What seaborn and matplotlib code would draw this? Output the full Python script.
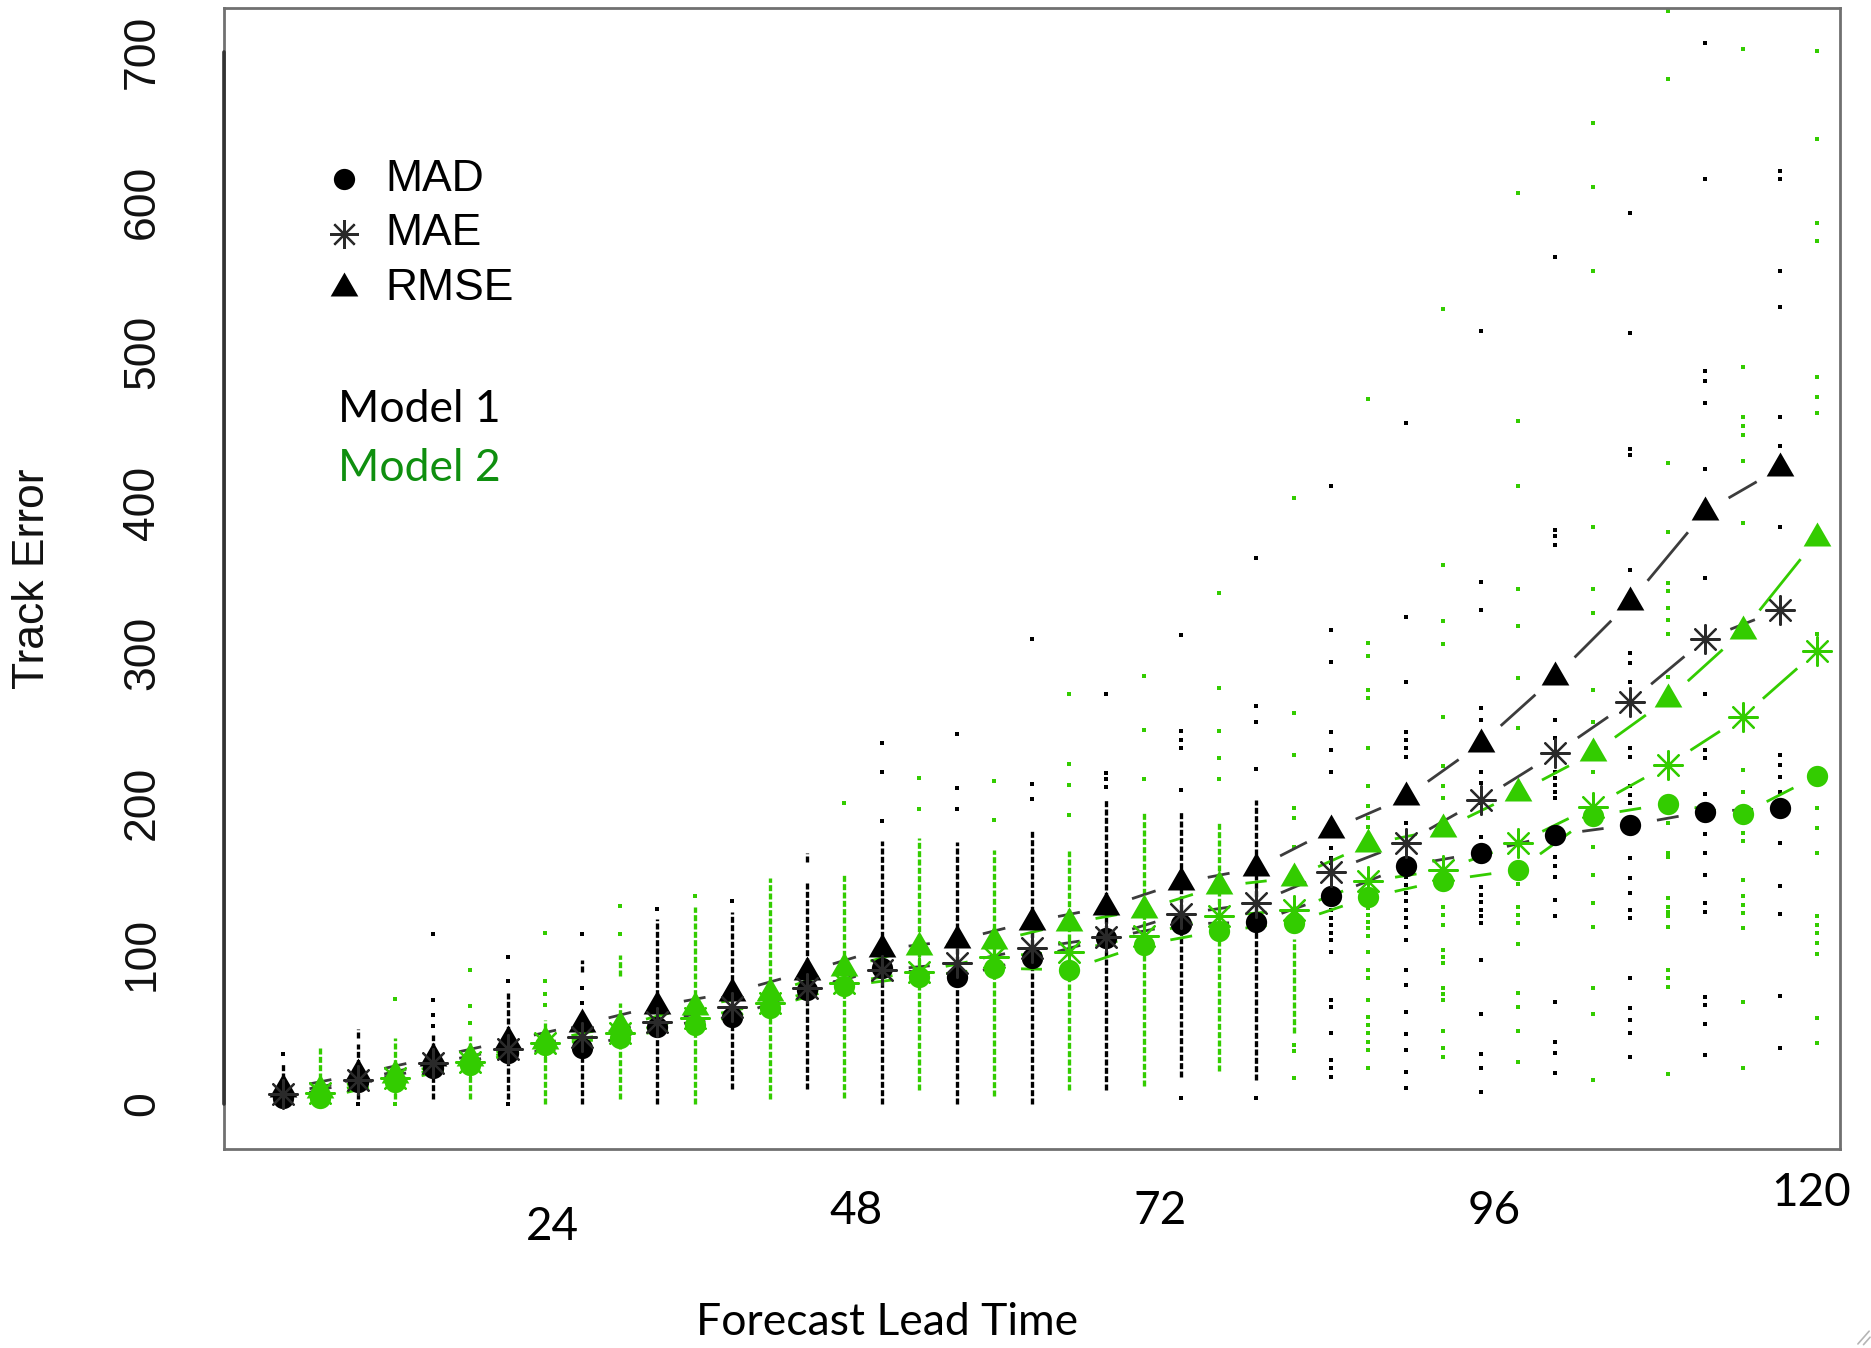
import numpy as np
import pandas as pd
import matplotlib
matplotlib.use("Agg")
import matplotlib.pyplot as plt
import matplotlib.lines as mlines
import seaborn as sns

# ---------------------------------------------------------------- data
lead_times = [0, 6, 12, 18, 24, 30, 36, 42, 48, 54, 60, 66, 72, 78, 84, 90, 96, 102, 108, 114, 120]

# summary statistics of track error per lead time
m1_mad = [3.8, 14.9, 23.7, 33.7, 37.0, 51.4, 57.6, 75.8, 90.3, 84.7, 96.8, 110.2, 119.8, 120.8, 138.4, 158.3, 167.2, 179.0, 185.6, 194.5, 196.7]
m1_mae = [6.9, 16.0, 27.0, 36.6, 44.8, 54.7, 64.7, 77.0, 89.0, 93.5, 103.5, 111.0, 126.4, 133.4, 154.6, 173.9, 202.2, 233.3, 267.7, 309.2, 328.7]
m1_rmse = [9.8, 19.7, 30.8, 41.9, 53.0, 65.2, 74.1, 88.0, 102.9, 108.8, 121.3, 130.9, 147.4, 156.8, 182.3, 204.0, 239.5, 284.3, 334.2, 394.1, 422.9]

m2_mad = [3.8, 14.9, 26.0, 39.5, 44.0, 52.5, 64.0, 78.5, 84.7, 90.3, 89.2, 105.9, 115.0, 120.6, 137.4, 148.6, 155.7, 191.6, 199.6, 192.9, 218.4]
m2_mae = [7.0, 17.0, 28.0, 40.5, 47.0, 56.9, 67.0, 80.6, 88.0, 98.0, 101.4, 112.0, 125.0, 129.0, 148.1, 155.7, 173.4, 197.8, 225.5, 257.7, 301.6]
m2_rmse = [9.5, 19.3, 30.4, 41.9, 52.0, 64.7, 73.6, 90.2, 104.2, 108.1, 120.2, 129.1, 144.8, 150.4, 172.8, 182.8, 207.1, 233.3, 269.2, 314.3, 376.4]

# individual case errors: densely packed stretches (lo, hi) and isolated cases
m1_runs = {
    0: [(0, 27)], 6: [(3, 40), (44, 50)], 12: [(3, 46)], 18: [(3, 74)],
    24: [(0, 60), (88, 96)], 30: [(0, 123)], 36: [(10, 128)], 42: [(10, 147), (161, 167)],
    48: [(0, 175)], 54: [(0, 174)], 60: [(0, 182)], 66: [(9, 202)],
    72: [(18, 195)], 78: [(16, 202)],
}
m1_dots = {
    0: [33], 6: [0], 12: [52, 59, 69, 113], 18: [0, 82, 98], 24: [67, 77, 113],
    30: [130], 36: [135], 42: [], 48: [188, 221, 240], 54: [196, 210, 246],
    60: [203, 213, 309], 66: [211, 216, 220, 273], 72: [4, 209, 237, 242, 248, 312],
    78: [4, 223, 254, 265, 363],
    84: [411.4, 315.4, 293.7, 247.7, 235.6, 221.1, 170.1, 163.5, 160.1, 129.1, 123.6, 119.1,
         113.6, 109.2, 101.4, 69.2, 64.8, 47.5, 29.3, 23.8, 18.2],
    90: [452.9, 323.8, 281.0, 247.7, 242.0, 236.9, 231.1, 186.8, 151.3, 145.8, 140.2, 134.7,
         129.1, 123.6, 118.0, 109.2, 89.2, 79.2, 61.0, 46.6, 36.0, 21.5, 10.4],
    96: [514.1, 347.5, 328.7, 263.3, 255.5, 221.1, 213.4, 200.1, 177.9, 144.6, 139.0, 134.6,
         129.1, 124.7, 120.2, 95.8, 59.7, 33.1, 23.8, 8.2],
    102: [563.3, 381.9, 377.9, 371.5, 255.5, 243.3, 221.1, 216.7, 212.3, 207.8, 203.4, 164.6,
          158.0, 151.3, 135.8, 125.1, 67.7, 41.1, 34.2, 20.4],
    108: [592.6, 512.8, 435.6, 431.6, 355.3, 299.9, 293.2, 281.0, 236.7, 231.1, 211.2, 205.6,
          200.0, 163.5, 150.2, 140.6, 129.1, 123.6, 83.6, 63.7, 55.9, 47.5, 31.5],
    114: [706.0, 615.2, 487.3, 480.6, 466.2, 422.3, 350.2, 272.8, 235.6, 230.0, 206.3, 179.7,
          166.8, 152.4, 133.5, 128.0, 71.4, 65.9, 53.0, 32.6],
    120: [620.8, 615.4, 554.0, 530.1, 456.9, 438.0, 383.5, 232.2, 225.3, 217.8, 207.8, 173.5,
          145.1, 126.4, 71.9, 37.1],
}

m2_runs = {
    0: [(0, 38)], 6: [(3, 44)], 12: [(3, 45)], 18: [(0, 56)], 24: [(3, 67), (85, 99)],
    30: [(0, 131)], 36: [(3, 150)], 42: [(4, 152)], 48: [(9, 177)], 54: [(5, 169)],
    60: [(9, 168)], 66: [(12, 195)], 72: [(22, 187)], 78: [(47, 110)],
}
m2_dots = {
    0: [], 6: [0, 70], 12: [54, 65, 89], 18: [66, 73, 82, 114], 24: [113, 132], 30: [138],
    36: [], 42: [200], 48: [196, 217], 54: [189, 215], 60: [192, 212, 226, 273],
    66: [216, 249, 285], 72: [216, 230, 248, 277, 340],
    78: [17, 35, 39, 171, 190, 197, 232, 260, 403],
    84: [468.8, 306.5, 298.3, 275.5, 269.9, 237.1, 211.6, 197.9, 190.0, 184.5, 130.2, 125.8,
         121.3, 116.9, 111.4, 101.4, 89.2, 83.6, 69.2, 58.1, 52.6, 47.0, 41.5, 35.7, 23.8],
    90: [528.7, 358.6, 321.4, 306.1, 257.1, 224.9, 211.6, 203.4, 131.3, 125.8, 119.1, 102.5,
         98.0, 93.6, 77.0, 73.0, 69.2, 48.8, 37.1, 31.5],
    96: [605.9, 454.2, 411.4, 342.4, 318.1, 283.2, 250.0, 146.4, 131.3, 125.8, 120.2, 106.3,
         73.7, 64.8, 48.8, 27.7],
    102: [652.5, 609.9, 554.0, 383.5, 342.4, 326.5, 275.5, 254.4, 221.1, 171.2, 152.4, 134.0,
          117.6, 77.0, 59.7, 16.0],
    108: [727.0, 681.8, 426.3, 380.8, 346.4, 340.9, 329.8, 322.0, 312.7, 284.3, 186.8, 166.8,
          164.6, 136.9, 131.3, 128.0, 124.7, 118.0, 89.2, 83.6, 78.1, 19.8],
    114: [702.0, 490.1, 456.9, 451.3, 444.7, 427.4, 386.3, 222.2, 207.2, 180.1, 174.6, 149.0,
          138.0, 132.5, 127.0, 117.0, 67.7, 23.8],
    120: [700.7, 641.8, 585.9, 574.0, 483.5, 470.0, 459.5, 312.7, 196.7, 183.4, 166.8, 125.1,
          119.1, 113.6, 106.9, 99.8, 57.0, 40.8],
}

x_tick_text = ["24", "48", "72", "96", "120"]
stat_names = ["MAD", "MAE", "RMSE"]
model_names = ["Model 1", "Model 2"]

# ---------------------------------------------------------------- style
BLACK = "#000000"
LINE_GREY = "#3c3c3c"
GREEN = "#33CC00"
LABEL_GREEN = "#0F8F0F"
MODEL2_SHIFT = 3          # side-by-side placement of the second model
PLOT_FONT = ["Liberation Sans", "DejaVu Sans"]
SLIDE_FONT = ["Lato", "DejaVu Sans"]

sns.set_theme(style="white")
plt.rcParams["font.family"] = PLOT_FONT
plt.rcParams["text.color"] = "#111111"
plt.rcParams["axes.labelcolor"] = "#111111"
plt.rcParams["ytick.color"] = "#111111"

TRI = [(0.0, 1.555), (-1.347, -0.778), (1.347, -0.778)]
AST = (8, 2, 0)

fig = plt.figure(figsize=(18.71, 13.48), dpi=100)
ax = fig.add_axes([0.1197, 0.1476, 0.8637, 0.8464])
ax.set_xlim(-4.73, 124.8)
ax.set_ylim(-30, 729)


def draw_cases(runs, dots, shift, color):
    # dense stretches of cases
    for lt, segs in runs.items():
        for lo, hi in segs:
            ax.vlines(lt + shift, lo, hi, colors=color, linewidth=2.4,
                      linestyles=(0, (1.8, 0.7)), zorder=2)
    rows = [(lt + shift, v) for lt, vals in dots.items() for v in vals]
    df = pd.DataFrame(rows, columns=["x", "err"])
    sns.scatterplot(data=df, x="x", y="err", marker="s", s=6.5, color=color,
                    linewidth=0, ax=ax, zorder=2, legend=False)


draw_cases(m1_runs, m1_dots, 0, BLACK)
draw_cases(m2_runs, m2_dots, MODEL2_SHIFT, GREEN)

# force the transforms to be final before trimming the connectors
fig.canvas.draw()


def connect_with_gaps(xs, ys, color, gap_px=27, lw=2.0):
    pts = ax.transData.transform(np.column_stack([xs, ys]))
    inv = ax.transData.inverted()
    for p0, p1 in zip(pts[:-1], pts[1:]):
        d = p1 - p0
        length = np.hypot(*d)
        if length <= 2 * gap_px:
            continue
        a = p0 + d * gap_px / length
        b = p1 - d * gap_px / length
        (xa, ya), (xb, yb) = inv.transform([a, b])
        ax.plot([xa, xb], [ya, yb], color=color, linewidth=lw,
                solid_capstyle="butt", zorder=3)


series = [
    (m1_mad, m1_mae, m1_rmse, 0, BLACK, LINE_GREY, "#2a2a2a"),
    (m2_mad, m2_mae, m2_rmse, MODEL2_SHIFT, GREEN, GREEN, GREEN),
]
for mad, mae, rmse, shift, col, lcol, acol in series:
    xs = [lt + shift for lt in lead_times]
    for vals in (mad, mae, rmse):
        connect_with_gaps(xs, vals, lcol)
    df = pd.DataFrame({"x": xs, "MAD": mad, "MAE": mae, "RMSE": rmse})
    sns.scatterplot(data=df, x="x", y="MAD", marker="o", s=235, color=col,
                    linewidth=0, ax=ax, zorder=4, legend=False)
    sns.scatterplot(data=df, x="x", y="RMSE", marker=TRI, s=530, color=col,
                    linewidth=0, ax=ax, zorder=4, legend=False)
    ax.scatter(df["x"], df["MAE"], marker=AST, s=430, color=acol,
               linewidths=1.6, zorder=4)

# ---------------------------------------------------------------- axes
ax.set_xlabel("")
ax.set_ylabel("Track Error", fontsize=32, va="center")
ax.yaxis.set_label_coords(-0.1182, 0.5)
ax.set_xticks([])
ax.set_yticks([0, 100, 200, 300, 400, 500, 600, 700])
ax.set_yticklabels(["0", "100", "200", "300", "400", "500", "600", "700"],
                   rotation=90, va="center", fontsize=32)
ax.tick_params(axis="y", length=0, pad=44)
for sp in ax.spines.values():
    sp.set_color("#707070")
    sp.set_linewidth(2.0)
ax.plot([ax.get_xlim()[0]] * 2, [0, 700], color="#333333", linewidth=2.6,
        clip_on=False, zorder=5)

# hand-placed lead time labels below the frame
label_x = [21.6, 45.9, 70.3, 97.1, 122.5]
label_y = [-0.0684, -0.0543, -0.0543, -0.0543, -0.0386]
blend = matplotlib.transforms.blended_transform_factory(ax.transData, ax.transAxes)
for txt, lx, ly in zip(x_tick_text, label_x, label_y):
    ax.text(lx, ly, txt, transform=blend, ha="center", va="center",
            fontsize=33, family=SLIDE_FONT, color=BLACK)
ax.text(0.4103, -0.152, "Forecast Lead Time", transform=ax.transAxes,
        ha="center", va="center", fontsize=32, family=SLIDE_FONT, color=BLACK)

# ---------------------------------------------------------------- key
key_marks = [("o", 15.3, BLACK, 0), (AST, 20.7, "#2a2a2a", 1.6), (TRI, 23.0, BLACK, 0)]
key_rows = [0.850, 0.802, 0.7546]
for name, (mk, ms, mc, mlw), ry in zip(stat_names, key_marks, key_rows):
    ax.plot([0.0743], [ry], marker=mk, markersize=ms, color=mc,
            markeredgewidth=mlw, linestyle="none", transform=ax.transAxes,
            clip_on=False, zorder=6)
    ax.text(0.0996, ry, name, transform=ax.transAxes, ha="left", va="center",
            fontsize=32, color=BLACK)

for name, ry, tc in zip(model_names, [0.6486, 0.5968], [BLACK, LABEL_GREEN]):
    ax.text(0.0705, ry, name, transform=ax.transAxes, ha="left", va="center",
            fontsize=32, family=SLIDE_FONT, color=tc)

# small resize grip in the lower right corner of the slide
for (x0, y0, x1, y1) in [(0.9930, 0.0030, 0.9990, 0.0125), (0.9960, 0.0025, 0.9995, 0.0080)]:
    fig.add_artist(mlines.Line2D([x0, x1], [y0, y1], color="#b5b5b5", linewidth=1.2))

fig.savefig("out.png", dpi=100, facecolor="white")
